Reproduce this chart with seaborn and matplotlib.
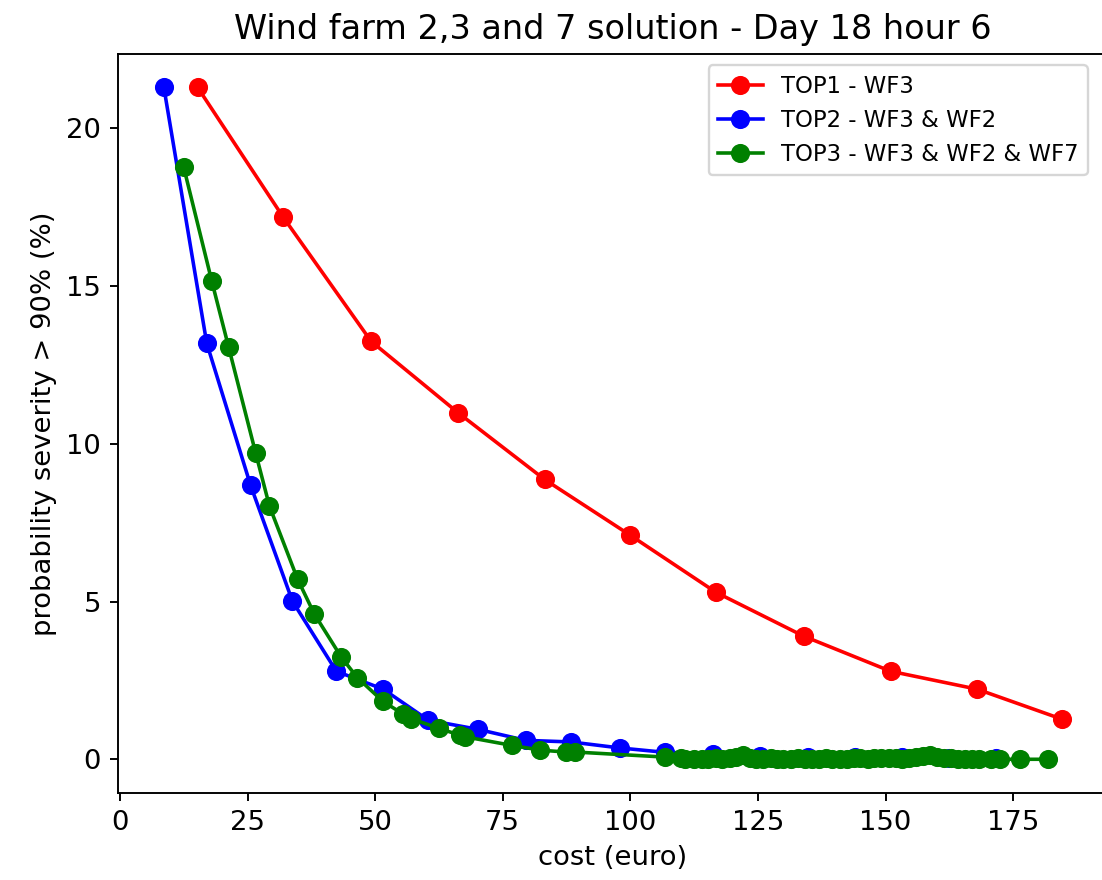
"""Pareto fronts of cost vs severity probability for the wind farm combinations."""

import numpy as np
import pandas as pd
import matplotlib
matplotlib.use('Agg')
import matplotlib.pyplot as plt
import seaborn as sns

# TOP1 - WF3
top1_cost = [15.2, 32.0, 49.2, 66.2, 83.2, 100.0, 116.8, 134.0, 151.0, 168.0, 184.6]
top1_prob = [21.3, 17.18, 13.25, 10.99, 8.87, 7.10, 5.29, 3.90, 2.79, 2.22, 1.27]

# TOP2 - WF3 & WF2
top2_cost = [8.6, 17.0, 25.6, 33.8, 42.4, 51.6, 60.4, 70.1, 79.5, 88.3, 97.9,
             106.8, 116.2, 125.5, 134.8, 144.0, 153.2, 162.5, 171.6]
top2_prob = [21.3, 13.19, 8.68, 5.01, 2.79, 2.22, 1.24, 0.95, 0.60, 0.55, 0.36,
             0.22, 0.17, 0.10, 0.08, 0.07, 0.06, 0.05, 0.05]

# TOP3 - WF3 & WF2 & WF7
top3_cost = [12.5, 18.0, 21.3, 26.6, 29.3, 34.8, 38.1, 43.4, 46.5, 51.5, 55.5,
             57.0, 62.5, 66.7, 67.7, 76.8, 82.4, 87.3, 89.2, 106.8, 110.0,
             110.8, 112.5, 114.0, 115.3, 116.8, 118.0, 119.5, 120.8, 122.0,
             123.4, 124.7, 126.0, 127.5, 128.8, 130.0, 131.5, 132.8, 134.2,
             135.6, 137.0, 138.3, 139.6, 141.0, 142.5, 143.8, 145.1, 146.5,
             147.8, 149.2, 150.6, 152.0, 153.3, 154.7, 156.0, 157.4, 158.8,
             160.1, 161.5, 162.8, 164.2, 165.6, 167.0, 168.3, 170.6, 172.5,
             176.4, 181.8]
top3_prob = [18.76, 15.15, 13.06, 9.70, 8.02, 5.71, 4.60, 3.23, 2.59, 1.84, 1.43,
             1.29, 0.98, 0.76, 0.71, 0.44, 0.29, 0.23, 0.23, 0.07, 0.03,
             0.02, 0.01, 0.02, 0.01, 0.03, 0.02, 0.04, 0.06, 0.12,
             0.05, 0.02, 0.01, 0.03, 0.02, 0.01, 0.02, 0.03, 0.02,
             0.01, 0.02, 0.03, 0.02, 0.01, 0.02, 0.04, 0.03, 0.02,
             0.03, 0.05, 0.04, 0.03, 0.02, 0.04, 0.06, 0.09, 0.12,
             0.08, 0.05, 0.03, 0.02, 0.01, 0.02, 0.01, 0.0, 0.0,
             0.0, 0.0]

series = [
    ('TOP1 - WF3', top1_cost, top1_prob, 'red'),
    ('TOP2 - WF3 & WF2', top2_cost, top2_prob, 'blue'),
    ('TOP3 - WF3 & WF2 & WF7', top3_cost, top3_prob, 'green'),
]

fig = plt.figure(figsize=(1102 / 172, 880 / 172), dpi=172)
# the original screenshot is cut off on the right, so the axes run just past the figure edge
ax = fig.add_axes([0.107, 0.099, 0.898, 0.84])

for name, cost, prob, col in series:
    df = pd.DataFrame({'cost': cost, 'prob': prob})
    sns.lineplot(data=df, x='cost', y='prob', ax=ax, color=col, label=name,
                 marker='o', markersize=8, markeredgewidth=0, linewidth=1.5,
                 sort=False)

ax.set_xlim(-0.4, 193.5)
ax.spines['right'].set_visible(False)
ax.set_title('Wind farm 2,3 and 7 solution - Day 18 hour 6', fontsize=14)
ax.set_xlabel('cost (euro)', fontsize=11.5)
ax.set_ylabel('probability severity > 90% (%)', fontsize=11.5)
ax.set_xticks([0, 25, 50, 75, 100, 125, 150, 175])
ax.set_yticks([0, 5, 10, 15, 20])
ax.tick_params(labelsize=11.5)
# legend pinned to the visible right edge of the picture
ax.legend(loc='upper right', fontsize=9.5)
ax.get_legend().set_bbox_to_anchor((0.9975, 0.9385), transform=fig.transFigure)

plt.savefig('out.png', dpi=172)
print("Saved: out.png")
